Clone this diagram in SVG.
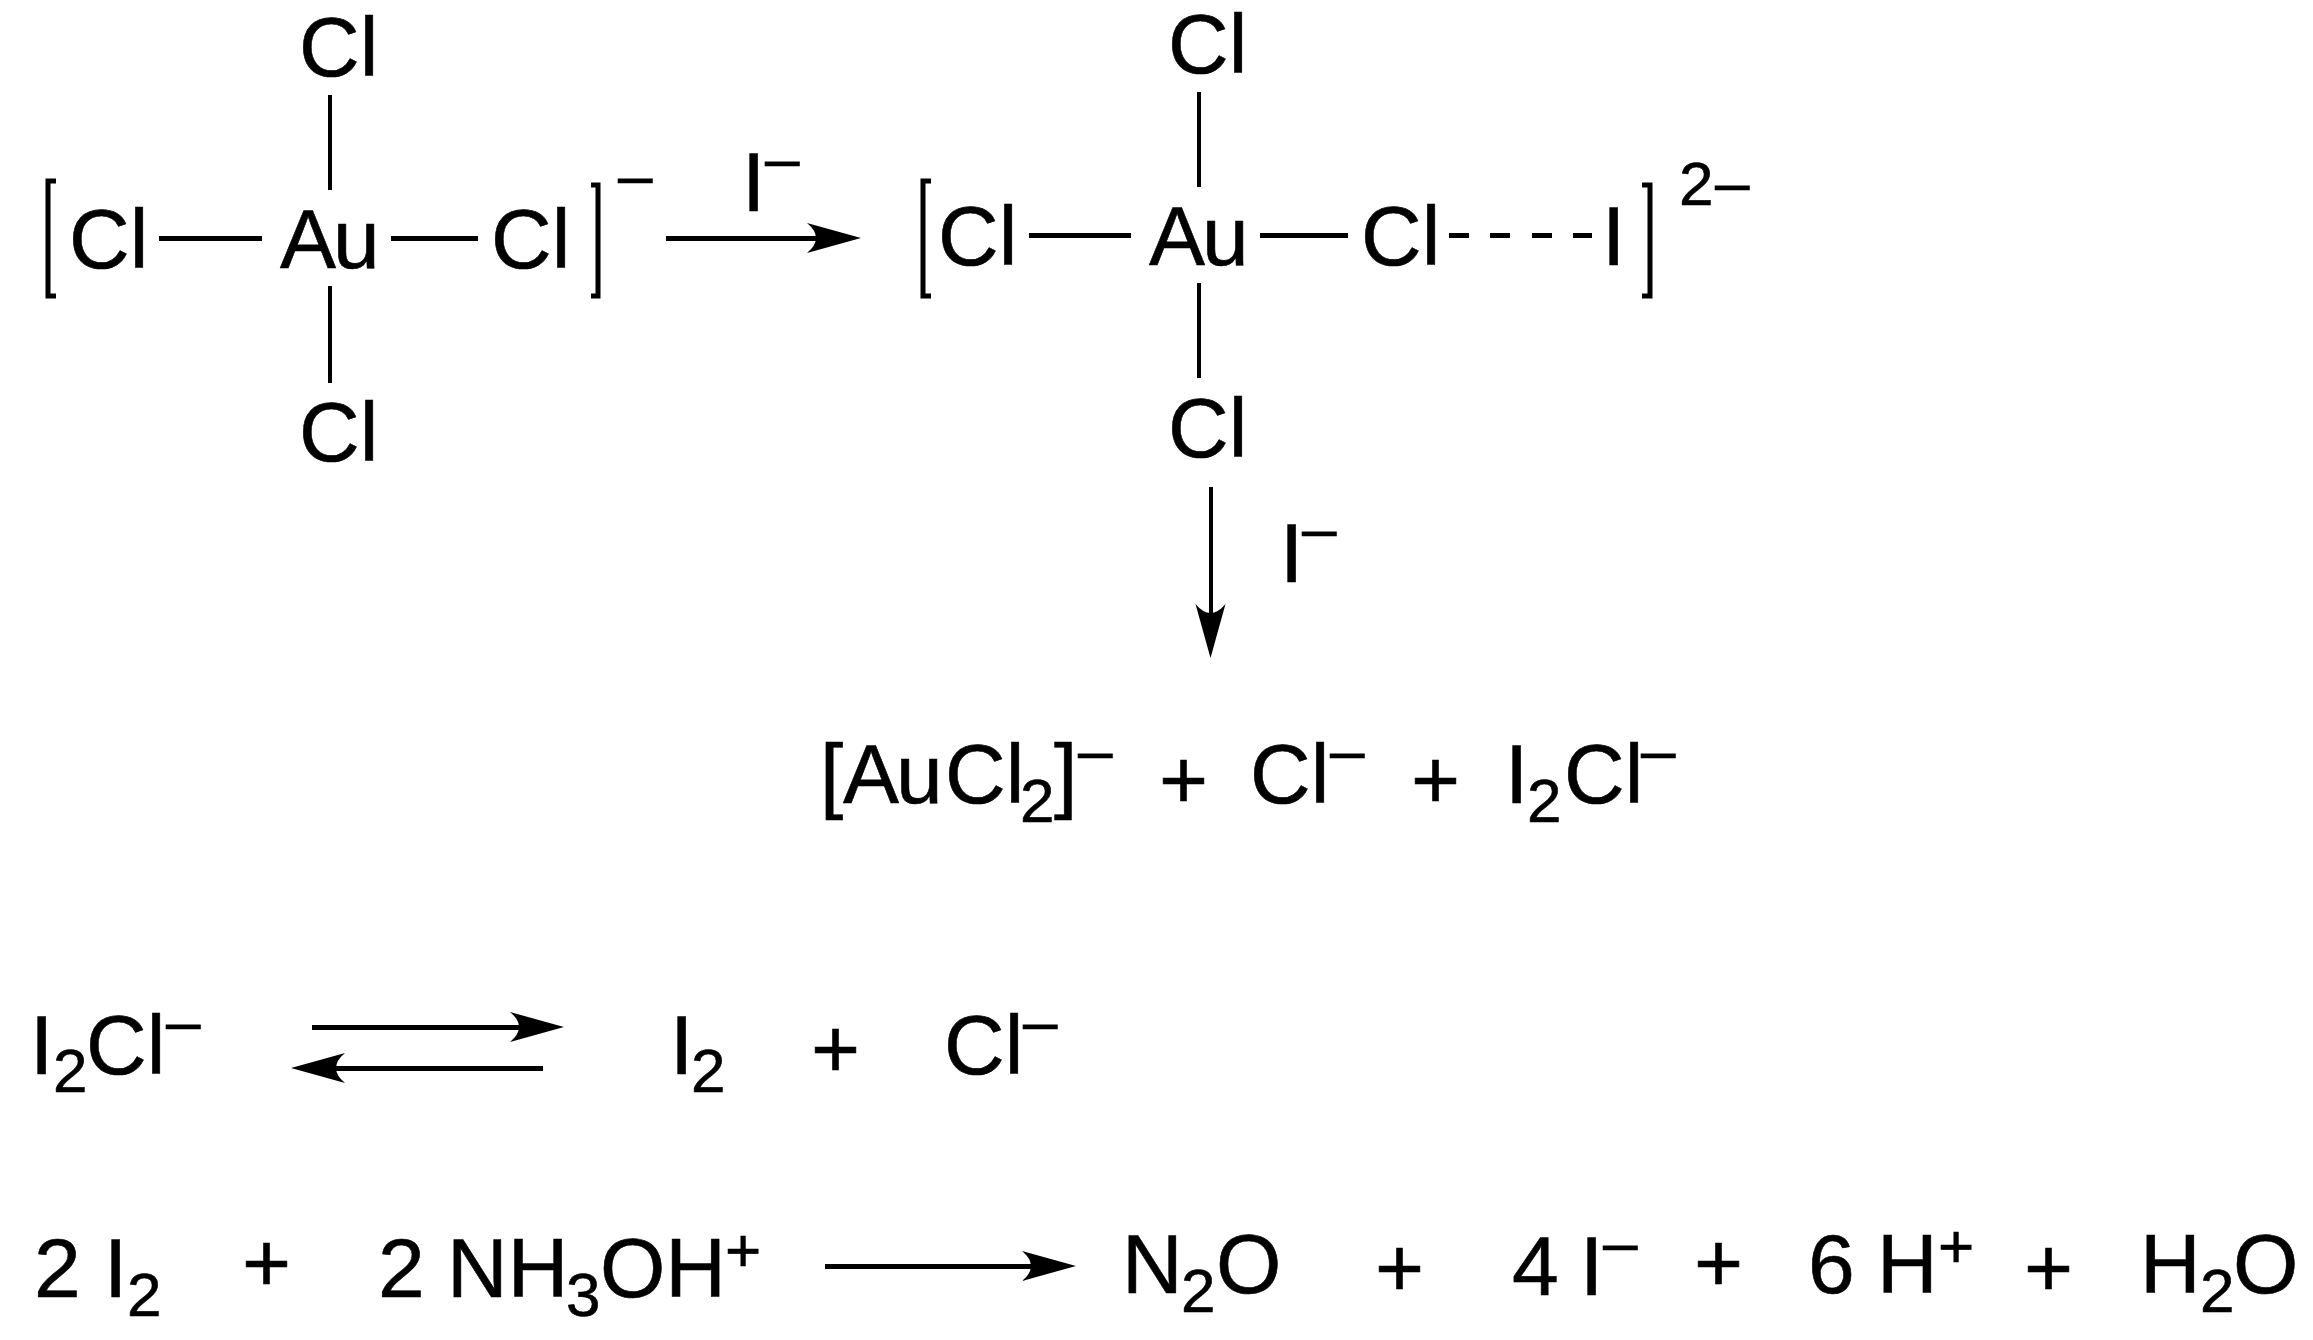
<svg xmlns="http://www.w3.org/2000/svg" width="2313" height="1340" viewBox="0 0 2313 1340">
<style>
text{font-family:"Liberation Sans",Arial,sans-serif;font-size:84px;fill:#000;stroke:#000;stroke-width:.6px}
.s{font-size:62px}
.au{letter-spacing:-3px}
.c{stroke:#000;fill:none;shape-rendering:crispEdges}
.h{stroke-width:5}
.v{stroke-width:4}
.b{stroke-width:5;stroke:#000;fill:none}
.a{marker-end:url(#head)}
.d{stroke-dasharray:20 21.3}
</style>
<defs>
<marker id="head" markerUnits="userSpaceOnUse" viewBox="0 -16 56 32" markerWidth="56" markerHeight="32" refX="12" refY="0" orient="auto">
<path d="M0,-15L54,0L0,15Q18,0 0,-15Z" fill="#000"/>
</marker>
</defs>
<rect width="2313" height="1340" fill="#fff"/>
<g id="connectors">
<path class="c v" d="M329.5,95V190M329.5,286V383"/>
<path class="c h" d="M159,238H262M391,238H478"/>
<path class="c h a" d="M666,238H819"/>
<path class="c v" d="M1199,92V187M1199,283V378"/>
<path class="c h" d="M1029,235H1131M1260,235H1348"/>
<path class="c h d" d="M1449,235H1592"/>
<path class="c v a" d="M1210.5,487V616"/>
<path class="c h a" d="M312,1027H522"/>
<path class="c h a" d="M543,1068H333"/>
<path class="c h a" d="M825,1266H1034"/>
</g>
<g id="complex1">
<path class="b" d="M56,181H48V296H56"/>
<path class="b" d="M591,185H598V296H591"/>
<text id="c1-cl-top" x="299" y="76">Cl</text>
<text id="c1-cl-left" x="69" y="268">Cl</text>
<text id="c1-au" class="au" x="280" y="268">Au</text>
<text id="c1-cl-right" x="491" y="268">Cl</text>
<text id="c1-cl-bottom" x="299" y="461">Cl</text>
<text id="c1-charge" class="s" x="618" y="197">–</text>
</g>
<g id="label-i1"><text><tspan x="742" y="211">I</tspan><tspan class="s" x="765" y="180">–</tspan></text></g>
<g id="complex2">
<path class="b" d="M931,181H923V296H931"/>
<path class="b" d="M1642,185H1650V296H1642"/>
<text id="c2-cl-top" x="1168" y="73">Cl</text>
<text id="c2-cl-left" x="938" y="265">Cl</text>
<text id="c2-au" class="au" x="1149" y="265">Au</text>
<text id="c2-cl-right" x="1361" y="265">Cl</text>
<text id="c2-i" x="1602" y="265">I</text>
<text id="c2-cl-bottom" x="1168" y="457">Cl</text>
<text id="c2-charge" class="s" x="1679" y="205">2<tspan x="1715" y="204">–</tspan></text>
</g>
<g id="label-i2"><text><tspan x="1280" y="582">I</tspan><tspan class="s" x="1302" y="550">–</tspan></text></g>
<g id="products1">
<text><tspan x="820" y="803">[</tspan><tspan class="au" x="843" y="803">Au</tspan><tspan x="945" y="803">Cl</tspan><tspan class="s" x="1020" y="822">2</tspan><tspan x="1054" y="803">]</tspan><tspan class="s" x="1078" y="772">–</tspan></text>
<text x="1159" y="808">+</text>
<text><tspan x="1250" y="803">Cl</tspan><tspan class="s" x="1330" y="772">–</tspan></text>
<text x="1411" y="808">+</text>
<text><tspan x="1505" y="803">I</tspan><tspan class="s" x="1527" y="822">2</tspan><tspan x="1564" y="803">Cl</tspan><tspan class="s" x="1641" y="772">–</tspan></text>
</g>
<g id="equilibrium">
<text><tspan x="30" y="1074">I</tspan><tspan class="s" x="53" y="1092">2</tspan><tspan x="86" y="1074">Cl</tspan><tspan class="s" x="166" y="1043">–</tspan></text>
<text><tspan x="670" y="1074">I</tspan><tspan class="s" x="691" y="1092">2</tspan></text>
<text x="811" y="1077">+</text>
<text><tspan x="944" y="1074">Cl</tspan><tspan class="s" x="1023" y="1043">–</tspan></text>
</g>
<g id="redox-left">
<text x="34" y="1297">2</text>
<text><tspan x="104" y="1297">I</tspan><tspan class="s" x="127" y="1316">2</tspan></text>
<text x="242" y="1291">+</text>
<text x="378" y="1297">2</text>
<text><tspan x="447" y="1297">NH</tspan><tspan class="s" x="566" y="1316">3</tspan><tspan x="600" y="1297">OH</tspan><tspan class="s" x="725" y="1271">+</tspan></text>
</g>
<g id="redox-right">
<text><tspan x="1122" y="1293">N</tspan><tspan class="s" x="1181" y="1312">2</tspan><tspan x="1216" y="1293">O</tspan></text>
<text x="1375" y="1296">+</text>
<text x="1512" y="1295">4</text>
<text><tspan x="1580" y="1295">I</tspan><tspan class="s" x="1603" y="1264">–</tspan></text>
<text x="1694" y="1291">+</text>
<text x="1808" y="1293">6</text>
<text><tspan x="1877" y="1293">H</tspan><tspan class="s" x="1938" y="1267">+</tspan></text>
<text x="2024" y="1296">+</text>
<text><tspan x="2140" y="1293">H</tspan><tspan class="s" x="2200" y="1312">2</tspan><tspan x="2233" y="1293">O</tspan></text>
</g>
</svg>
